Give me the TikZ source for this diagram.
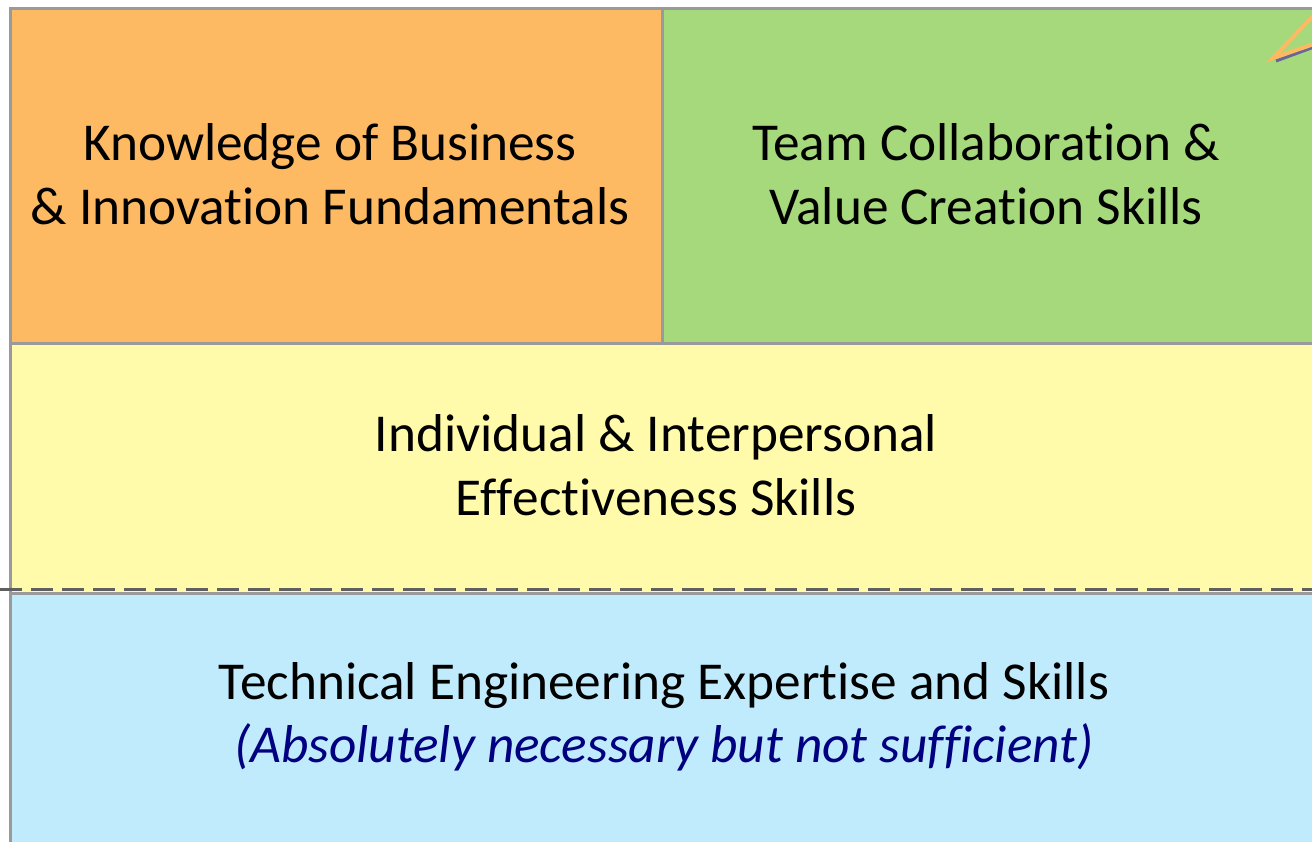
\documentclass[tikz,border=0pt]{standalone}
\usepackage{fontspec}
\setmainfont{Carlito}[RawFeature={-liga;-clig;-dlig;-calt}]
\newcommand{\nlg}{\kern0pt{}}
\definecolor{borange}{HTML}{FDBA63}
\definecolor{bgreen}{HTML}{A5D97B}
\definecolor{byellow}{HTML}{FFFBAA}
\definecolor{bblue}{HTML}{C0EBFC}
\definecolor{bline}{HTML}{9A9A9A}
\definecolor{bdash}{HTML}{5F5F5F}
\definecolor{navytext}{HTML}{000080}
\tikzset{
  box/.style={draw=bline, line width=3pt, inner sep=0pt, align=center,
    font=\fontsize{53.3}{63.5}\selectfont, text=black},
  sep/.style={draw=bdash, line width=3pt, dash pattern=on 22pt off 9pt},
}
\begin{document}
\begin{tikzpicture}[x=1pt,y=-1pt]
\useasboundingbox (0,0) rectangle (1312,842);
\clip (0,0) rectangle (1312,842);
% boxes
\node[box, fill=bblue, minimum width=1316pt, minimum height=270pt, anchor=north west] (tech) at (9,592) {};
\node[box, fill=byellow, minimum width=1316pt, minimum height=250pt, anchor=north west] (indiv) at (9,342) {};
\node[box, fill=borange, minimum width=652pt, minimum height=335pt, anchor=north west] (know) at (9,7) {};
\node[box, fill=bgreen, minimum width=666pt, minimum height=335pt, anchor=north west] (team) at (661,7) {};
% texts
\node[box, draw=none] (knowt) at (330,174) {Knowledge of Business\\\& Innovat\nlg ion Fundamentals};
\node[box, draw=none] (teamt) at (986,174) {Team Collaborat\nlg ion \&\\Value Creat\nlg ion Skills};
\node[box, draw=none] (indivt) at (656,465) {Individual \& Interpersonal\\Ef\nlg f\nlg ect\nlg iveness Skills};
\node[box, draw=none] (techt) at (664,717) {Technical Engineering Expertise and Skills\\{\color{navytext}\itshape (Absolutely necessary but not suf\nlg f\nlg i\nlg cient)}};
% dashed separator
\coordinate (dl) at (0,589);
\coordinate (dr) at (1312,589);
\draw[sep] (dl) -- (dr);
\draw[draw=bdash, line width=2pt] (0,589) -- (9,589);
% callout tip
\coordinate (c1) at (1314,15);
\coordinate (c2) at (1273,58);
\coordinate (c3) at (1314,44);
\draw[draw=gray!80!blue, line width=3pt] ([shift={(3,3)}]c2) -- ([shift={(0,3)}]c3);
\draw[draw=borange, line width=4pt, line join=miter] (c1) -- (c2) -- (c3);
\end{tikzpicture}
\end{document}
